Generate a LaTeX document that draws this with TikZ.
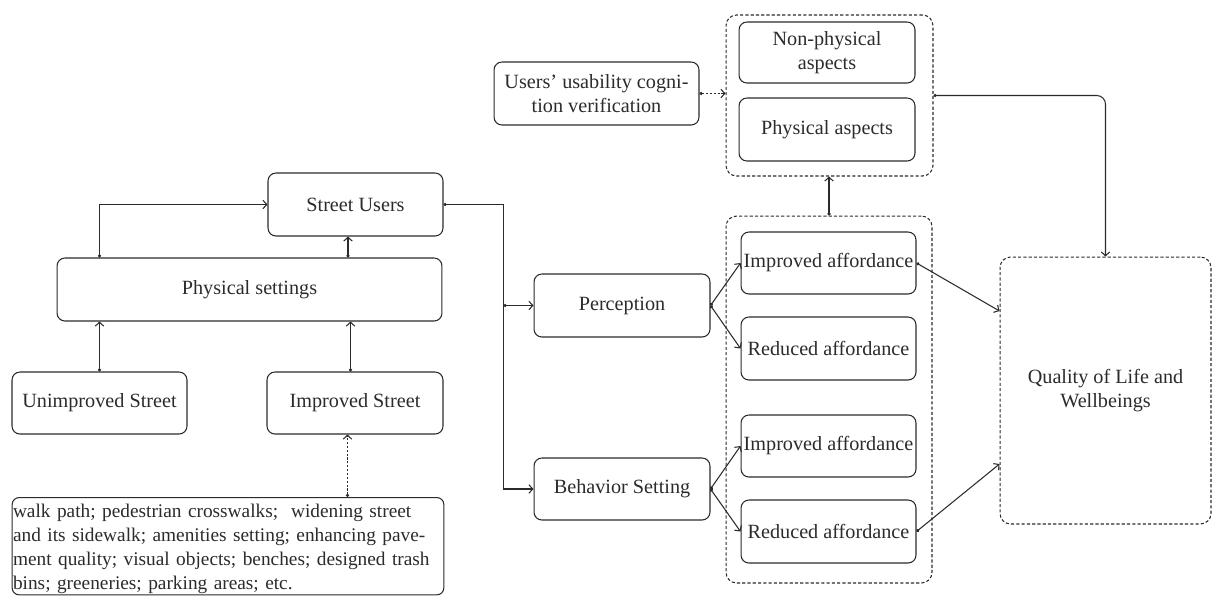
\documentclass[tikz,border=0pt]{standalone}
\usepackage{fontspec}
\setmainfont{Liberation Serif}
\usetikzlibrary{arrows.meta,calc}
\definecolor{ink}{HTML}{2B2B2B}
\begin{document}
\begin{tikzpicture}[x=0.02cm,y=-0.02cm,
  font=\fontsize{11.5}{13.5}\selectfont, text=ink,
  box/.style={draw=ink, line width=0.6pt, rounded corners=4.5pt, inner sep=0pt,
              align=center, minimum width=3.5cm, minimum height=1.26cm},
  group/.style={draw=ink, line width=0.6pt, rounded corners=6pt, inner sep=0pt,
                align=center, dash pattern=on 1.8pt off 1.2pt},
  link/.style={draw=ink, line width=0.6pt,
               {Circle[length=1.8pt]}-{Straight Barb[length=2.2pt,width=4.8pt]}},
  dotlink/.style={link, dash pattern=on 1.2pt off 1pt}]
\useasboundingbox (0,0) rectangle (1212,596);

% left column
\node[box] (su) at (355.5,204.5) {Street Users};
\node[box, minimum width=7.7cm] (ps) at (249.5,289.5) {Physical settings};
\node[box, minimum height=1.24cm] (us) at (99.5,403) {Unimproved Street};
\node[box, minimum width=3.52cm, minimum height=1.24cm] (is) at (355,403) {Improved Street};
\node[box, rounded corners=4pt, minimum height=0pt, inner xsep=0.5pt, inner ysep=0.6pt,
      text width=8.6cm, align=left, anchor=north,
      font=\fontsize{11}{13.6}\selectfont] (list) at (228,497)
  {\rule{0pt}{11pt}walk path; pedestrian crosswalks;\ \ widening street\\
   and its sidewalk; amenities setting; enhancing pave-\\
   ment quality; visual objects; benches; designed trash\\
   bins; greeneries; parking areas; etc.};

% middle column
\node[box, minimum width=3.52cm] (per) at (622,305.5) {Perception};
\node[box, minimum width=3.52cm, minimum height=1.24cm] (beh) at (622,489) {Behavior Setting};
\node[box, minimum width=4.1cm] (uu) at (596.5,93.5) {Users' usability cogni-\\tion verification};

% aspects group
\node[group, minimum width=4.14cm, minimum height=3.22cm] (asp) at (829.5,95.5) {};
\node[box, minimum width=3.52cm, minimum height=1.22cm] (np) at (827,52.5) {Non-physical\\aspects};
\node[box, minimum width=3.52cm] (pa) at (827,129.5) {Physical aspects};

% affordance group
\node[group, minimum width=4.12cm, minimum height=7.34cm] (aff) at (829,399.5) {};
\node[box, minimum height=1.24cm] (ia1) at (828.5,263) {Improved affordance};
\node[box] (ra1) at (828.5,348.5) {Reduced affordance};
\node[box, minimum height=1.24cm] (ia2) at (828.5,446) {Improved affordance};
\node[box] (ra2) at (828.5,531.5) {Reduced affordance};

% outcome
\node[group, minimum width=4.22cm, minimum height=5.34cm] (qol) at (1105.5,390.5)
  {Quality of Life and\\Wellbeings};

% connectors on the left
\draw[link] (ps.north -| us) |- (su.west);
\draw[link] ([xshift=-0.15cm]ps.north -| su) -- ([xshift=-0.15cm]su.south);
\draw[link] (us.north) -- (us.north |- ps.south);
\draw[link] ([xshift=-0.09cm]is.north) -- ([xshift=-0.09cm]is.north |- ps.south);
\draw[dotlink] ([xshift=-0.15cm]list.north -| is) -- ([xshift=-0.15cm]is.south);

% Street Users to Perception and Behavior Setting
\coordinate (bus) at (503.5,204.5);
\draw[link] (su.east) -- (bus) |- (beh.west);
\draw[link] (bus |- per.west) -- (per.west);

% branches into the affordances
\draw[link] (per.east) -- (ia1.west);
\draw[link] (per.east) -- (ra1.west);
\draw[link] (beh.east) -- (ia2.west);
\draw[link] (beh.east) -- (ra2.west);

% affordances to the outcome
\draw[link] (ia1.east) -- ($(qol.west)+(0,-79.5)$);
\draw[link] (ra2.east) -- ($(qol.west)+(0,73.5)$);

% aspects
\draw[link] (aff.north) -- (aff.north |- asp.south);
\draw[dotlink] (uu.east) -- (uu.east -| asp.west);
\draw[link, rounded corners=5pt] (asp.east) -| (qol.north);
\end{tikzpicture}
\end{document}
